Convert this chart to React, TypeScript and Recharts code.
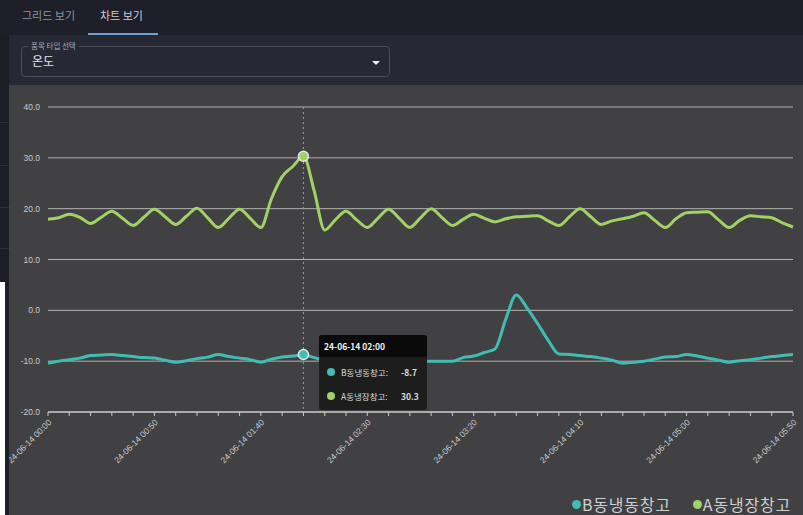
import { LineChart, Line, XAxis, YAxis, CartesianGrid, Tooltip, Legend } from 'recharts';

// minutes after 24-06-14 00:00, one reading every 5 minutes
const minutes = [
  0, 5, 10, 15, 20, 25, 30, 35, 40, 45, 50, 55, 60, 65, 70, 75, 80, 85, 90, 95,
  100, 105, 110, 115, 120, 125, 130, 135, 140, 145, 150, 155, 160, 165, 170, 175,
  180, 185, 190, 195, 200, 205, 210, 215, 220, 225, 230, 235, 240, 245, 250, 255,
  260, 265, 270, 275, 280, 285, 290, 295, 300, 305, 310, 315, 320, 325, 330, 335,
  340, 345, 350,
];

// B동냉동창고
const freezerB = [
  -10.4, -10.0, -9.7, -9.4, -8.9, -8.8, -8.7, -8.9, -9.1, -9.3, -9.4, -9.8, -10.2, -9.9, -9.5, -9.2, -8.7, -9.1, -9.4, -9.7,
  -10.2, -9.6, -9.2, -9.0, -8.7, -9.3, -9.8, -9.9, -10.0, -10.0, -10.1, -10.0, -10.0, -10.0, -10.0, -10.0,
  -10.0, -10.0, -10.0, -9.3, -9.0, -8.3, -7.6, -1.8, 3.0, 0.5, -2.6, -5.9, -8.6, -8.7, -8.9, -9.1,
  -9.4, -9.8, -10.4, -10.2, -10.0, -9.6, -9.2, -9.1, -8.7, -9.0, -9.4, -9.8, -10.2, -9.9, -9.7, -9.4,
  -9.1, -8.9, -8.7,
];

// A동냉장창고
const coolerA = [
  17.9, 18.2, 18.9, 18.3, 17.1, 18.3, 19.5, 18.1, 16.7, 18.3, 19.9, 18.4, 16.9, 18.5, 20.1, 18.2, 16.3, 18.1, 19.9, 18.1,
  16.3, 22.0, 26.3, 28.3, 30.3, 23.6, 15.8, 17.8, 19.5, 17.8, 16.3, 18.1, 19.9, 18.1, 16.3, 18.2,
  20.0, 18.3, 16.7, 17.9, 18.9, 18.1, 17.4, 18.0, 18.4, 18.5, 18.6, 17.6, 16.7, 18.4, 20.0, 18.4,
  16.9, 17.6, 18.0, 18.5, 19.2, 17.7, 16.3, 18.0, 19.2, 19.3, 19.4, 17.8, 16.3, 17.7, 18.6, 18.4,
  18.2, 17.2, 16.4,
];

const minorTicks = [
  0, 10, 20, 30, 40, 50, 60, 70, 80, 90, 100, 110, 120, 130, 140, 150, 160, 170,
  180, 190, 200, 210, 220, 230, 240, 250, 260, 270, 280, 290, 300, 310, 320, 330, 340, 350,
];
const tickLabels = [
  '24-06-14 00:00', '24-06-14 00:50', '24-06-14 01:40', '24-06-14 02:30',
  '24-06-14 03:20', '24-06-14 04:10', '24-06-14 05:00', '24-06-14 05:50',
];
const yTicks = [-20, -10, 0, 10, 20, 30, 40];

const TEAL = '#3fbdb3';
const GREEN = '#a2d166';
const seriesList = [
  { key: 'B', name: 'B동냉동창고', color: TEAL },
  { key: 'A', name: 'A동냉장창고', color: GREEN },
];

const data = minutes.map((m, i) => ({ m, B: freezerB[i], A: coolerA[i] }));

const fmtTime = (m: number) => {
  const h = String(Math.floor(m / 60)).padStart(2, '0');
  const mm = String(m % 60).padStart(2, '0');
  return `24-06-14 ${h}:${mm}`;
};

const XTick = ({ x, y, payload }: any) => {
  const v = payload.value as number;
  if (v % 50 !== 0) return <g />;
  return (
    <text
      x={x + 4} y={y + 5}
      transform={`rotate(-45, ${x + 4}, ${y + 5})`}
      textAnchor="end" fontSize={8.5} fill="#c6cad2"
    >
      {tickLabels[v / 50]}
    </text>
  );
};

const TipBox = ({ active, payload, label }: any) => {
  if (!active || !payload?.length) return null;
  return (
    <div style={{
      width: 108, background: '#1d1d1e', borderRadius: 3, overflow: 'hidden',
      fontSize: 8.5, color: '#dcdcdc', fontFamily: '"Noto Sans CJK KR", "Liberation Sans", sans-serif',
      paddingBottom: 2,
    }}>
      <div style={{ background: '#0a0a0a', height: 22, lineHeight: '22px', paddingLeft: 5, fontWeight: 700, color: '#f2f2f2' }}>
        {fmtTime(label)}
      </div>
      <div style={{ paddingTop: 3 }}>
        {payload.map((p: any) => (
          <div key={p.dataKey} style={{ height: 24, display: 'flex', alignItems: 'center', position: 'relative' }}>
            <span style={{ position: 'absolute', left: 8, width: 8, height: 8, borderRadius: 4, background: p.color }} />
            <span style={{ position: 'absolute', left: 22 }}>{p.name}:</span>
            <span style={{ position: 'absolute', left: 82, fontWeight: 700 }}>{p.value.toFixed(1)}</span>
          </div>
        ))}
      </div>
    </div>
  );
};

const LegendRow = () => (
  <div style={{ display: 'flex', gap: 22, fontSize: 16, letterSpacing: 0.8, color: '#cfd0d2', fontFamily: '"Noto Sans CJK KR", sans-serif', lineHeight: '16px' }}>
    {seriesList.map(s => (
      <span key={s.key} style={{ display: 'flex', alignItems: 'center' }}>
        <span style={{ width: 9, height: 9, borderRadius: 5, background: s.color, marginRight: 1 }} />
        {s.name}
      </span>
    ))}
  </div>
);

export default function App() {
  return (
    <div style={{ position: 'absolute', left: 0, top: 0, width: 803, height: 515, overflow: 'hidden', background: '#262834', fontFamily: '"Noto Sans CJK KR", sans-serif' }}>
      {/* tab bar */}
      <div style={{ position: 'absolute', left: 0, top: 0, width: 803, height: 35, background: '#1e1f29' }}>
        <span style={{ position: 'absolute', left: 22, top: 7, fontSize: 11, color: '#8e93a1' }}>그리드 보기</span>
        <span style={{ position: 'absolute', left: 100, top: 7, fontSize: 11, color: '#c9cfdb' }}>차트 보기</span>
        <div style={{ position: 'absolute', left: 88, top: 33, width: 70, height: 2, background: '#6f9fd3' }} />
      </div>
      {/* left strip */}
      <div style={{ position: 'absolute', left: 0, top: 35, width: 9, height: 480, background: '#1c1d25' }}>
        {[87, 130, 172, 213].map(t => (
          <div key={t} style={{ position: 'absolute', left: 0, top: t, width: 9, height: 1, background: '#2c2e38' }} />
        ))}
        <div style={{ position: 'absolute', left: 0, top: 247, width: 5, height: 233, background: '#ffffff' }} />
      </div>
      {/* select */}
      <div style={{ position: 'absolute', left: 21, top: 46, width: 367, height: 29, border: '1px solid #4a4c58', borderRadius: 4 }}>
        <span style={{ position: 'absolute', left: 6, top: -6, fontSize: 7.5, lineHeight: '10px', color: '#a7acb8', background: '#262834', padding: '0 3px' }}>품목 타입 선택</span>
        <span style={{ position: 'absolute', left: 10, top: 6, fontSize: 12, lineHeight: '16px', color: '#e6e6e6' }}>온도</span>
        <div style={{ position: 'absolute', left: 350, top: 14, width: 0, height: 0, borderLeft: '4px solid transparent', borderRight: '4px solid transparent', borderTop: '4px solid #f0f0f0' }} />
      </div>
      {/* chart panel */}
      <div style={{ position: 'absolute', left: 9, top: 85, width: 794, height: 430, background: '#414143', fontFamily: '"Liberation Sans", Arial, sans-serif' }}>
        <LineChart width={794} height={430} data={data} margin={{ top: 22, right: 10, left: 0, bottom: 0 }}>
          <CartesianGrid vertical={false} stroke="#b2b2b2" />
          <XAxis
            dataKey="m" type="number" domain={[0, 350]} ticks={minorTicks} interval={0}
            height={103} tickSize={4}
            axisLine={{ stroke: '#dcdcdc' }} tickLine={{ stroke: '#c8c8c8' }}
            tick={<XTick />}
          />
          <YAxis
            domain={[-20, 40]} ticks={yTicks} width={39}
            axisLine={false} tickLine={false}
            tick={{ fontSize: 8.5, fill: '#c6cad2' }}
            tickFormatter={(v: number) => v.toFixed(1)}
          />
          <Tooltip
            content={<TipBox />} defaultIndex={24} active
            position={{ x: 310, y: 250 }} isAnimationActive={false}
            cursor={{ stroke: '#9a9a9a', strokeDasharray: '2 3', strokeWidth: 1 }}
          />
          <Legend
            verticalAlign="middle" align="center" content={<LegendRow />}
            wrapperStyle={{ top: 411, left: 'auto', right: 12, width: 'auto' }}
          />
          {seriesList.map(s => (
            <Line
              key={s.key} type="monotone" dataKey={s.key} name={s.name} stroke={s.color} strokeWidth={3}
              dot={false} activeDot={{ r: 5, fill: s.color, stroke: '#e6e6e6', strokeWidth: 1.5 }}
              isAnimationActive={false}
            />
          ))}
        </LineChart>
      </div>
    </div>
  );
}
